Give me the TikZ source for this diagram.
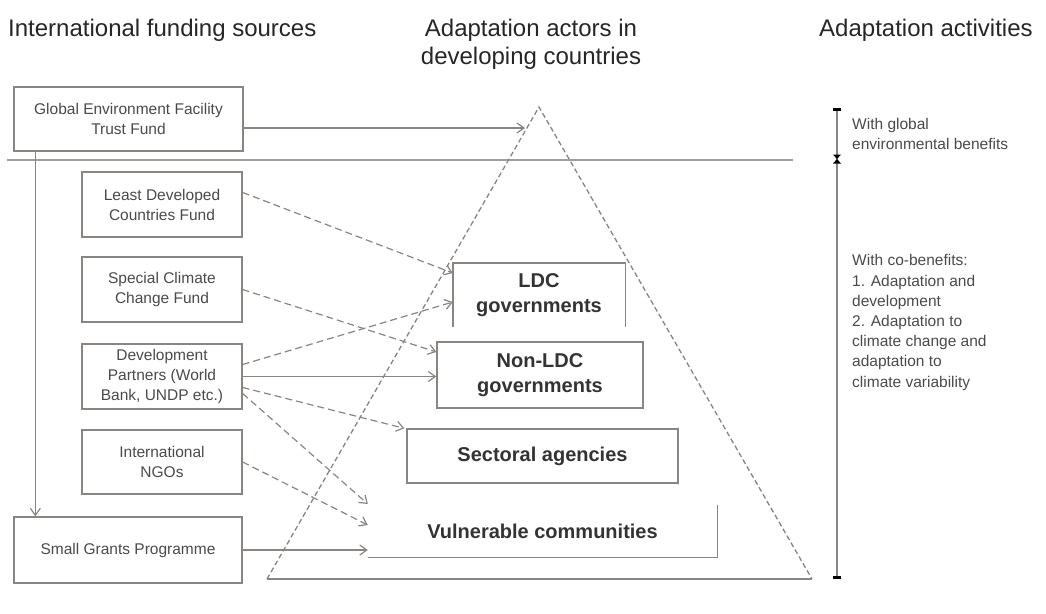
\documentclass[tikz,border=0pt]{standalone}
\usepackage{fontspec}
\setmainfont{Liberation Sans}
\usetikzlibrary{arrows.meta}
\definecolor{ln}{HTML}{8A8580}
\definecolor{txt}{HTML}{4A4A4A}
\begin{document}
\begin{tikzpicture}[x=1pt,y=-1pt,
  src/.style={draw=ln,line width=1.3pt,text=txt,font=\fontsize{15.5}{20}\selectfont,align=center,inner sep=0pt},
  act/.style={inner sep=0pt,text=black!80,font=\fontsize{20}{25}\selectfont\bfseries,align=center},
  abox/.style={draw=ln,line width=1.4pt},
  conn/.style={draw=ln,line width=1.2pt,-{Straight Barb[length=7pt,width=10pt]}},
  dconn/.style={conn,dash pattern=on 7pt off 4pt},
  tri/.style={draw=ln,line width=1.3pt,dash pattern=on 5pt off 3pt},
  hdr/.style={font=\fontsize{24}{28}\selectfont,text=black!85,inner sep=0pt},
  note/.style={font=\fontsize{15.5}{20.2}\selectfont,text=txt,align=left,inner sep=0pt}
]
\useasboundingbox (0,0) rectangle (1046,613);

% headers
\node[hdr,anchor=west] (h1) at (8,30) {International funding sources};
\node[hdr,align=center] (h2) at (531,44) {Adaptation actors in\\developing countries};
\node[hdr,anchor=west] (h3) at (819,30) {Adaptation activities};

% separator line
\coordinate (sepl) at (7,160);
\coordinate (sepr) at (793,160);
\draw[ln!80,line width=1.2pt] (sepl) -- (sepr);

% triangle
\coordinate (apex) at (539,107);
\coordinate (bl) at (267,579);
\coordinate (br) at (812,579);
\draw[tri] (bl) -- (apex) -- (br);
\draw[draw=ln,line width=1.4pt] (bl) -- (br);

% source boxes
\node[src,fill=white,minimum width=229pt,minimum height=64pt] (gef) at (128.5,119) {Global Environment Facility\\Trust Fund};
\node[src,minimum width=160pt,minimum height=65pt] (ldcf) at (162,204.5) {Least Developed\\Countries Fund};
\node[src,minimum width=160pt,minimum height=65pt] (sccf) at (162,289.5) {Special Climate\\Change Fund};
\node[src,minimum width=160pt,minimum height=65pt] (dp) at (162,376.5) {Development\\Partners (World\\Bank, UNDP etc.)};
\node[src,minimum width=160pt,minimum height=64pt] (ngo) at (162,462) {International\\NGOs};
\node[src,minimum width=228pt,minimum height=66pt] (sgp) at (128,550) {Small Grants Programme};

% actor boxes
\node[act,minimum width=172pt,minimum height=64pt] (ldcg) at (539,295) {LDC\\governments};
\draw[abox] (ldcg.south west) -- (ldcg.north west) -- (ldcg.north east) -- (ldcg.south east);
\node[act,abox,minimum width=206pt,minimum height=66pt] (nldc) at (540,375) {Non-LDC\\governments};
\node[act,abox,minimum width=271pt,minimum height=54pt] (sect) at (542.5,456) {Sectoral agencies};
\node[act,minimum width=349pt,minimum height=52pt] (vuln) at (542.5,531) {Vulnerable communities};
\draw[abox] (vuln.north east) -- (vuln.south east) -- (vuln.south west);

% connectors
\coordinate (gefin) at (525,128);
\draw[conn] ([yshift=-9pt]gef.east) -- (gefin);
\draw[conn] ([xshift=22pt]gef.south west) -- ([xshift=22pt]sgp.north west);
\draw[dconn] ([yshift=12pt]ldcf.east) -- ([yshift=22pt]ldcg.west);
\draw[dconn] (sccf.east) -- ([yshift=23pt]nldc.west);
\draw[dconn] ([yshift=12pt]dp.east) -- ([yshift=-7pt]ldcg.west);
\draw[conn] (dp.east) -- (dp.east -| nldc.west);
\draw[dconn] ([yshift=-11pt]dp.east) -- ([xshift=-2pt]sect.north west);
\draw[dconn] ([yshift=-17pt]dp.east) -- ([yshift=27pt]vuln.west);
\draw[dconn] (ngo.east) -- ([yshift=6pt]vuln.west);
\draw[conn] (sgp.east) -- (sgp.east -| vuln.west);

% scale on the right
\coordinate (st) at (837,109);
\coordinate (sm) at (837,159);
\coordinate (sb) at (837,577);
\draw[ln,line width=1.3pt] (st) -- (sb);
\fill[black] ([xshift=-4pt,yshift=1.5pt]st) rectangle ([xshift=4pt,yshift=-1.5pt]st);
\fill[black] ([xshift=-4pt,yshift=4.5pt]sm) -- ([xshift=4pt,yshift=4.5pt]sm) -- (sm) -- cycle;
\fill[black] ([xshift=-4pt,yshift=-4.5pt]sm) -- ([xshift=4pt,yshift=-4.5pt]sm) -- (sm) -- cycle;
\fill[black] ([xshift=-4pt,yshift=1.5pt]sb) rectangle ([xshift=4pt,yshift=-1.5pt]sb);

\node[note,anchor=west] (n1) at (852,134) {With global\\environmental benefits};
\node[note,anchor=west] (n2) at (852,322.5) {With co-benefits:\\1. Adaptation and\\development\\2. Adaptation to\\climate change and\\adaptation to\\climate variability};
\end{tikzpicture}
\end{document}
